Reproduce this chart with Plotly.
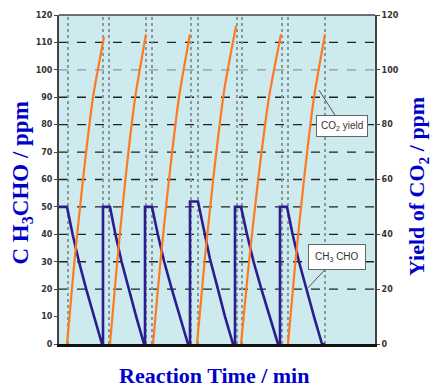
import plotly.graph_objects as go

# ---------------- data ----------------
# CH3CHO concentration (ppm) vs reaction time (min)
ch3cho_t = [0, 4, 6.8, 10.0, 13.6, 17.5, 21.5,
            22, 22, 25.5, 28.2, 31.3, 34.9, 38.6, 42.5,
            43, 43, 46.5, 49.4, 52.6, 56.4, 60.4, 64.5,
            65.5, 65.5, 69.5, 72.3, 75.5, 79.1, 83, 87,
            88, 88, 91, 94, 97.3, 101.2, 105.2, 109.5,
            110.5, 110.5, 114, 116.8, 120, 123.6, 127.5, 131.5, 133]
ch3cho_v = [50, 50, 40, 30, 20, 10, 0,
            0, 50, 50, 40, 30, 20, 10, 0,
            0, 50, 50, 40, 30, 20, 10, 0,
            0, 52, 52, 42, 31, 21, 10, 0,
            0, 50, 50, 40, 30, 20, 10, 0,
            0, 50, 50, 40, 30, 20, 10, 0, 0]

# CO2 yield (ppm) vs reaction time (min), one run per cycle (None = gap)
co2_t = [4, 7.7, 12, 17, 22.5, None,
         25.5, 29.1, 33.2, 38.1, 43.5, None,
         47, 50.7, 55, 60, 65.5, None,
         69, 72.9, 77.4, 82.7, 88.5, None,
         91, 95, 99.6, 105, 111, None,
         114.5, 118.2, 122.5, 127.5, 133]
co2_v = [0, 30, 60, 90, 112, None,
         0, 30, 60, 90, 113, None,
         0, 30, 60, 90, 113, None,
         0, 31, 62, 93, 116, None,
         0, 30, 60, 90, 113, None,
         0, 30, 60, 90, 113]

# axis ticks / grid
left_ticks = [0, 10, 20, 30, 40, 50, 60, 70, 80, 90, 100, 110, 120]
right_ticks = [0, 20, 40, 60, 80, 100, 120]
h_grid_dark = [20, 30, 40, 50, 60, 70, 80, 90, 110]
h_grid_light = [100]
v_grid = [4.5, 22, 25, 43.5, 46.5, 66, 69.5, 89, 91.5, 111.5, 114.5, 133]

T_MAX = 158
Y_MAX = 120

BLUE = "#2b1d8e"
ORANGE = "#ff7a1f"
TITLE_BLUE = "#0000cc"

fig = go.Figure()

fig.add_trace(go.Scatter(x=ch3cho_t, y=ch3cho_v, mode="lines",
                         line=dict(color=BLUE, width=2.6),
                         name="CH3CHO", yaxis="y"))
fig.add_trace(go.Scatter(x=co2_t, y=co2_v, mode="lines",
                         line=dict(color=ORANGE, width=2.2, shape="spline", smoothing=0.6),
                         name="CO2 yield", yaxis="y2", connectgaps=False))

shapes = []
for v in h_grid_dark:
    shapes.append(dict(type="line", xref="paper", x0=0, x1=1, yref="y", y0=v, y1=v,
                       line=dict(color="#222222", width=1.3, dash="dash"), layer="below"))
for v in h_grid_light:
    shapes.append(dict(type="line", xref="paper", x0=0, x1=1, yref="y", y0=v, y1=v,
                       line=dict(color="#8a9a9c", width=1.2, dash="dash"), layer="below"))
for t in v_grid:
    shapes.append(dict(type="line", xref="x", x0=t, x1=t, yref="paper", y0=0, y1=1,
                       line=dict(color="#8d9799", width=2, dash="dot"), layer="below"))
# top frame
shapes.append(dict(type="line", xref="paper", x0=0, x1=1, yref="paper", y0=1, y1=1,
                   line=dict(color="#444444", width=1.5)))

tickfont = dict(family="DejaVu Sans", size=8, color="#333333", weight="bold")

fig.update_layout(
    width=438, height=390,
    margin=dict(l=59, r=63, t=15, b=46),
    paper_bgcolor="white",
    plot_bgcolor="#cdeaef",
    showlegend=False,
    shapes=shapes,
    xaxis=dict(range=[0, T_MAX], showgrid=False, zeroline=False,
               showticklabels=False, ticks="",
               showline=True, linecolor="#111111", linewidth=3),
    yaxis=dict(range=[0, Y_MAX], tickvals=left_ticks,
               tickfont=tickfont, showgrid=False, zeroline=False,
               ticks="outside", ticklen=3, tickcolor="#444",
               showline=True, linecolor="#444444", linewidth=2),
    yaxis2=dict(range=[0, Y_MAX], tickvals=right_ticks,
                tickfont=tickfont, overlaying="y", side="right",
                showgrid=False, zeroline=False,
                ticks="outside", ticklen=3, tickcolor="#444",
                showline=True, linecolor="#444444", linewidth=2),
    annotations=[
        dict(text="C H<sub>3</sub>CHO / ppm", xref="paper", yref="paper",
             x=-0.118, y=0.49, textangle=-90, showarrow=False,
             xanchor="center", yanchor="middle",
             font=dict(family="Liberation Serif", size=23, color=TITLE_BLUE, weight="bold")),
        dict(text="Yield of CO<sub>2</sub> / ppm", xref="paper", yref="paper",
             x=1.136, y=0.48, textangle=-90, showarrow=False,
             xanchor="center", yanchor="middle",
             font=dict(family="Liberation Serif", size=22, color=TITLE_BLUE, weight="bold")),
        dict(text="Reaction Time / min", xref="paper", yref="paper",
             x=0.49, y=-0.095, showarrow=False,
             xanchor="center", yanchor="middle",
             font=dict(family="Liberation Serif", size=22, color=TITLE_BLUE, weight="bold")),
        dict(text="CO<sub>2</sub> yield", x=130, y=92.6, xref="x", yref="y",
             showarrow=True, arrowhead=0, arrowwidth=1, arrowcolor="#555",
             ax=23, ay=36, bgcolor="white", bordercolor="#666", borderwidth=1,
             borderpad=4, font=dict(family="Liberation Sans Narrow, Liberation Sans", size=10, color="#333")),
        dict(text="CH<sub>3</sub> CHO", x=124.5, y=20.5, xref="x", yref="y",
             showarrow=True, arrowhead=0, arrowwidth=1, arrowcolor="#555",
             ax=29, ay=-31, bgcolor="white", bordercolor="#666", borderwidth=1,
             borderpad=6, font=dict(family="Liberation Sans Narrow, Liberation Sans", size=10, color="#333")),
    ],
)

fig.write_html("out.html")
